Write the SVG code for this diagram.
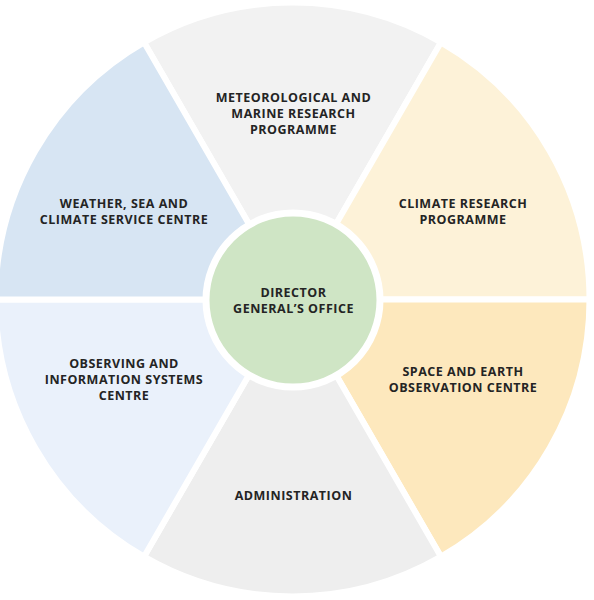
<svg xmlns="http://www.w3.org/2000/svg" width="594" height="600" viewBox="0 0 594 600">
<style>
.sec{stroke:#ffffff;stroke-width:6;stroke-linejoin:miter}
.lbl{font-family:"Open Sans","Liberation Sans",sans-serif;font-weight:700;font-size:12.5px;letter-spacing:0.5px;fill:#242424;text-anchor:middle;dominant-baseline:central}
</style>
<rect width="594" height="600" fill="#ffffff"/>
<g id="meteorological">
<path class="sec" d="M292.5,299.5 L144,42.3 A297,297 0 0 1 441,42.3 Z" fill="#f2f2f2"/>
<text class="lbl" x="293.5" y="97">METEOROLOGICAL AND</text>
<text class="lbl" x="293.5" y="113">MARINE RESEARCH</text>
<text class="lbl" x="293.5" y="129">PROGRAMME</text>
</g>
<g id="climate-research">
<path class="sec" d="M292.5,299.5 L441,42.3 A297,297 0 0 1 589.5,299.5 Z" fill="#fdf2d8"/>
<text class="lbl" x="463" y="203">CLIMATE RESEARCH</text>
<text class="lbl" x="463" y="219">PROGRAMME</text>
</g>
<g id="space-earth">
<path class="sec" d="M292.5,299.5 L589.5,299.5 A297,297 0 0 1 441,556.7 Z" fill="#fde8bd"/>
<text class="lbl" x="463" y="371">SPACE AND EARTH</text>
<text class="lbl" x="463" y="387">OBSERVATION CENTRE</text>
</g>
<g id="administration">
<path class="sec" d="M292.5,299.5 L441,556.7 A297,297 0 0 1 144,556.7 Z" fill="#eeeeee"/>
<text class="lbl" x="293.5" y="495">ADMINISTRATION</text>
</g>
<g id="observing">
<path class="sec" d="M292.5,299.5 L144,556.7 A297,297 0 0 1 -4.5,299.5 Z" fill="#eaf1fb"/>
<text class="lbl" x="124" y="363">OBSERVING AND</text>
<text class="lbl" x="124" y="379">INFORMATION SYSTEMS</text>
<text class="lbl" x="124" y="395">CENTRE</text>
</g>
<g id="weather">
<path class="sec" d="M292.5,299.5 L-4.5,299.5 A297,297 0 0 1 144,42.3 Z" fill="#d7e5f3"/>
<text class="lbl" x="124" y="203">WEATHER, SEA AND</text>
<text class="lbl" x="124" y="219">CLIMATE SERVICE CENTRE</text>
</g>
<g id="director">
<circle cx="293" cy="300" r="87" fill="#cfe5c5" stroke="#ffffff" stroke-width="7"/>
<text class="lbl" x="293.5" y="292">DIRECTOR</text>
<text class="lbl" x="293.5" y="308">GENERAL’S OFFICE</text>
</g>
</svg>
